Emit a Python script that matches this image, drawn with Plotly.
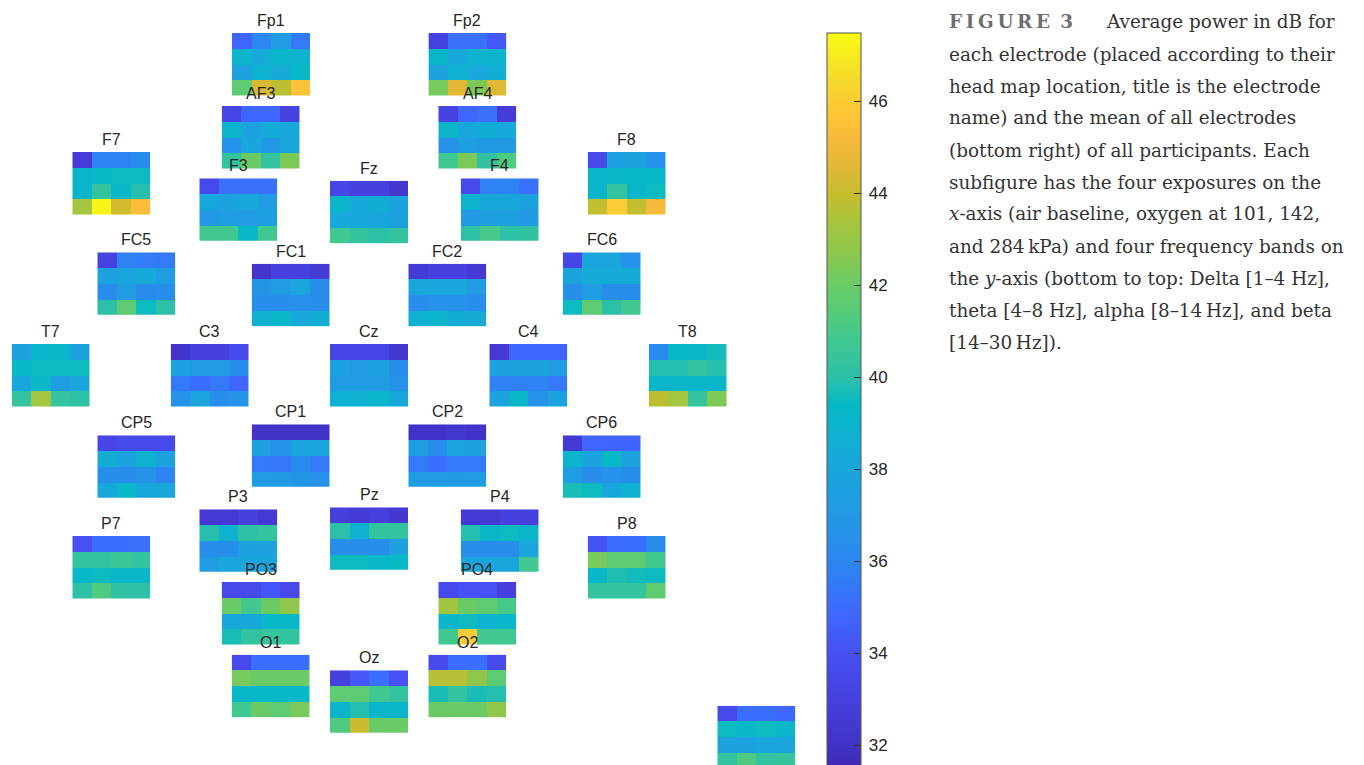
import plotly.graph_objects as go

# ---------------- data ----------------
EXPOSURES = ["Air baseline", "O2 101 kPa", "O2 142 kPa", "O2 284 kPa"]
BANDS_TOP_TO_BOTTOM = ["Beta", "Alpha", "Theta", "Delta"]

# rows listed top to bottom (Beta, Alpha, Theta, Delta), columns = exposures
FP1 = [[34.8, 36.0, 37.3, 35.5], [39.0, 38.3, 39.1, 38.9], [37.6, 38.9, 38.3, 39.4], [41.6, 44.4, 43.8, 45.6]]
FP2 = [[33.1, 35.2, 35.2, 34.3], [39.1, 38.1, 38.9, 39.0], [37.8, 38.8, 38.2, 38.5], [42.3, 44.6, 42.4, 44.5]]
AF3 = [[33.4, 34.8, 34.8, 33.1], [39.0, 37.8, 38.4, 38.1], [36.6, 38.0, 37.0, 37.9], [40.3, 42.0, 40.3, 42.4]]
AF4 = [[33.1, 34.8, 35.2, 32.7], [39.1, 38.1, 38.5, 38.2], [36.6, 37.5, 37.1, 37.1], [40.8, 42.4, 40.2, 41.2]]
F7 = [[32.7, 35.8, 35.8, 36.3], [39.1, 39.3, 39.5, 39.5], [39.1, 40.3, 39.2, 39.9], [43.3, 47.3, 44.2, 45.3]]
F8 = [[33.6, 37.7, 37.7, 36.6], [39.1, 39.2, 39.2, 39.2], [39.1, 40.3, 39.1, 39.5], [43.9, 45.9, 43.9, 45.1]]
F3 = [[33.5, 35.2, 35.2, 35.2], [38.1, 37.7, 38.1, 37.3], [37.0, 37.4, 37.2, 37.5], [40.8, 40.8, 39.2, 40.8]]
FZ = [[33.3, 33.0, 33.0, 32.4], [39.1, 38.2, 38.5, 37.8], [38.2, 38.2, 37.9, 37.8], [40.8, 40.3, 40.1, 40.3]]
F4 = [[33.6, 35.8, 35.8, 35.2], [39.0, 38.1, 38.1, 37.8], [37.0, 37.5, 37.5, 37.1], [40.1, 41.0, 40.1, 40.2]]
FC5 = [[33.1, 35.8, 35.6, 35.5], [37.7, 37.9, 38.2, 37.2], [36.3, 37.2, 36.3, 36.4], [40.0, 41.6, 39.5, 40.0]]
FC1 = [[32.2, 33.0, 33.0, 32.6], [36.8, 37.2, 37.9, 36.4], [36.4, 36.4, 36.5, 36.4], [38.8, 39.2, 38.2, 38.5]]
FC2 = [[32.6, 33.0, 33.0, 32.5], [37.9, 37.9, 37.9, 37.3], [36.4, 36.6, 36.6, 36.4], [38.8, 39.1, 38.5, 38.3]]
FC6 = [[33.3, 38.0, 38.0, 36.6], [37.8, 38.4, 38.4, 38.4], [36.4, 37.2, 36.4, 36.4], [39.5, 41.6, 40.0, 40.8]]
T7 = [[37.7, 39.1, 39.1, 37.7], [39.2, 39.5, 39.5, 39.5], [38.1, 39.2, 37.2, 38.0], [40.3, 43.3, 40.3, 40.1]]
C3 = [[32.2, 33.0, 33.0, 33.6], [37.7, 37.2, 37.2, 36.4], [35.5, 35.1, 35.5, 34.8], [36.6, 38.0, 36.4, 36.6]]
CZ = [[33.3, 33.3, 33.3, 32.4], [37.7, 37.3, 37.6, 36.4], [37.3, 37.2, 37.2, 36.7], [38.7, 38.8, 39.1, 38.1]]
C4 = [[32.5, 34.8, 34.8, 34.8], [37.7, 37.7, 37.7, 37.2], [35.8, 35.8, 35.8, 35.5], [37.7, 39.1, 36.6, 37.7]]
T8 = [[36.3, 39.2, 39.1, 39.6], [39.9, 39.9, 40.3, 39.9], [39.1, 39.1, 39.1, 39.1], [43.8, 43.3, 40.3, 42.4]]
CP5 = [[33.3, 33.6, 33.6, 33.6], [38.5, 37.7, 38.8, 37.7], [36.4, 36.4, 36.6, 35.9], [38.1, 39.2, 38.1, 38.1]]
CP1 = [[32.0, 32.0, 32.0, 32.0], [37.6, 36.6, 38.0, 38.0], [35.5, 35.4, 36.2, 35.5], [37.2, 37.1, 36.8, 36.6]]
CP2 = [[32.1, 32.1, 32.3, 32.1], [37.2, 36.4, 38.0, 37.6], [35.5, 35.1, 35.5, 35.5], [37.2, 37.3, 37.1, 37.2]]
CP6 = [[32.5, 34.8, 34.7, 34.7], [39.0, 37.7, 39.2, 37.7], [37.2, 36.4, 36.6, 36.4], [39.7, 39.5, 38.1, 38.8]]
P7 = [[34.0, 35.1, 35.1, 35.2], [40.3, 40.3, 40.6, 40.3], [39.2, 39.5, 39.2, 39.1], [40.1, 41.2, 40.1, 40.1]]
P3 = [[32.5, 32.5, 33.0, 32.5], [39.9, 38.8, 40.1, 40.3], [36.4, 36.4, 37.7, 37.7], [37.3, 37.9, 37.9, 37.9]]
PZ = [[32.9, 32.6, 32.9, 32.4], [40.0, 38.8, 40.3, 40.3], [36.4, 36.4, 36.4, 37.6], [39.5, 39.5, 39.2, 39.4]]
P4 = [[32.5, 32.5, 33.0, 33.0], [39.9, 39.1, 39.5, 39.1], [36.4, 36.4, 36.4, 38.0], [38.0, 38.0, 38.0, 40.8]]
P8 = [[34.1, 35.1, 35.1, 36.3], [42.3, 41.6, 41.6, 40.8], [39.2, 39.8, 39.6, 39.5], [40.3, 40.3, 40.3, 41.7]]
PO3 = [[33.5, 33.5, 34.2, 33.5], [42.0, 40.8, 42.0, 42.8], [38.1, 38.1, 39.2, 39.2], [39.7, 40.3, 40.4, 40.3]]
PO4 = [[33.6, 34.0, 34.0, 33.0], [43.2, 42.0, 41.6, 41.0], [39.1, 39.5, 38.9, 39.2], [40.8, 46.0, 40.8, 40.8]]
O1 = [[33.6, 35.1, 35.1, 35.1], [42.3, 42.0, 42.0, 42.0], [39.2, 39.2, 39.2, 39.2], [40.8, 42.0, 41.6, 42.3]]
OZ = [[33.0, 34.3, 35.1, 34.0], [41.6, 41.6, 40.8, 40.3], [39.1, 39.9, 39.1, 39.1], [41.2, 44.0, 42.0, 42.0]]
O2 = [[33.6, 35.1, 35.1, 33.6], [43.7, 43.7, 42.8, 41.6], [39.7, 40.3, 39.7, 39.9], [42.0, 42.0, 42.0, 42.8]]
MEAN = [[33.5, 35.1, 35.1, 34.8], [39.5, 39.2, 39.5, 39.1], [37.7, 37.7, 38.0, 38.0], [40.3, 41.2, 40.3, 40.4]]

ELECTRODES = ["Fp1", "Fp2", "AF3", "AF4", "F7", "F8", "F3", "Fz", "F4", "FC5", "FC1", "FC2", "FC6",
              "T7", "C3", "Cz", "C4", "T8", "CP5", "CP1", "CP2", "CP6", "P7", "P3", "Pz", "P4", "P8",
              "PO3", "PO4", "O1", "Oz", "O2", ""]
VALUES = [FP1, FP2, AF3, AF4, F7, F8, F3, FZ, F4, FC5, FC1, FC2, FC6,
          T7, C3, CZ, C4, T8, CP5, CP1, CP2, CP6, P7, P3, PZ, P4, P8,
          PO3, PO4, O1, OZ, O2, MEAN]

COLOR_MIN, COLOR_MAX = 31.2, 47.48
COLORBAR_TICKS = [32, 34, 36, 38, 40, 42, 44, 46]

# ---------------- layout (pixel placement on the page) ----------------
PAGE_W, PAGE_H = 1364, 765
OFF = 8  # default body margin of the html page
W, H = PAGE_W - OFF, PAGE_H - OFF
TILE_W, TILE_H = 78.0, 62.5
TILE_POS = [(232, 33), (428.4, 33), (221.7, 106), (438.3, 106), (72.3, 152), (587.7, 152),
            (199.3, 178.3), (330, 180.7), (460.7, 178.3), (97.3, 252.3), (251.7, 263.7),
            (408.3, 263.7), (562.7, 252.3), (11.7, 344), (170.7, 344), (330, 344), (489.3, 344),
            (648.7, 344), (97.3, 435.3), (251.7, 424.3), (408.3, 424.3), (562.7, 435.3),
            (72.3, 536), (199.3, 509.3), (330, 507.3), (460.7, 509.3), (587.7, 536),
            (221.7, 582), (438.3, 582), (231.7, 654.7), (330, 670.3), (428.3, 654.7), (717.3, 705.7)]


def fx(px):
    return (px - OFF) / W


def fy(py):
    return 1 - (py - OFF) / H


# parula-like colour anchors (value, colour)
PARULA = [(31.2, "#3e26a8"), (32.0, "#4232c6"), (33.0, "#4640de"), (34.0, "#4650f4"),
          (35.0, "#3c6cff"), (36.0, "#2c87f0"), (37.0, "#2299e4"), (38.0, "#1aa6dc"),
          (39.0, "#0bb4cc"), (39.4, "#06b9c4"), (40.0, "#2cc0a8"), (40.8, "#40c890"),
          (41.5, "#58cb76"), (42.0, "#6acb66"), (42.7, "#8cc84e"), (43.4, "#a8c43c"),
          (44.0, "#c8bc2e"), (44.6, "#e2b834"), (45.2, "#f9ba3c"), (45.8, "#fcc835"),
          (46.5, "#f4da2a"), (47.48, "#f9fb14")]
colorscale = [[(v - COLOR_MIN) / (COLOR_MAX - COLOR_MIN), c] for v, c in PARULA]

fig = go.Figure()
annotations = []
layout_axes = {}
bands_bottom_to_top = BANDS_TOP_TO_BOTTOM[::-1]

for i, (name, vals, (px, py)) in enumerate(zip(ELECTRODES, VALUES, TILE_POS), start=1):
    z = vals[::-1]  # bottom row = Delta
    fig.add_trace(go.Heatmap(
        z=z, x=EXPOSURES, y=bands_bottom_to_top, coloraxis="coloraxis",
        xaxis=f"x{i}", yaxis=f"y{i}", name=name or "Mean",
        hovertemplate="%{y} / %{x}: %{z:.1f} dB<extra>" + (name or "Mean") + "</extra>"))
    ytop = fy(py)
    ybot = fy(py + TILE_H)
    yrange = [-0.5, 3.5]
    if ybot < 0:
        visible_px = PAGE_H - py
        cells = visible_px / (TILE_H / 4)
        yrange = [3.5 - cells, 3.5]
        ybot = 0
    layout_axes[f"xaxis{i}"] = dict(domain=[fx(px), fx(px + TILE_W)], anchor=f"y{i}", visible=False,
                                    showgrid=False, zeroline=False, fixedrange=True)
    layout_axes[f"yaxis{i}"] = dict(domain=[ybot, ytop], anchor=f"x{i}", visible=False,
                                    showgrid=False, zeroline=False, range=yrange, fixedrange=True)
    if name:
        annotations.append(dict(
            text=name, x=fx(px + TILE_W / 2), y=fy(py - 12.5),
            xref="paper", yref="paper", xanchor="center", yanchor="middle", showarrow=False,
            font=dict(family="Liberation Sans, Arial, sans-serif", size=16, color="#262626")))

# caption text
CAPTION_LINES = [
    "each electrode (placed according to their",
    "head map location, title is the electrode",
    "name) and the mean of all electrodes",
    "(bottom right) of all participants. Each",
    "subfigure has the four exposures on the",
    "<i>x</i>-axis (air baseline, oxygen at 101, 142,",
    "and 284\u2009kPa) and four frequency bands on",
    "the <i>y</i>-axis (bottom to top: Delta [1\u20134 Hz],",
    "theta [4\u20138 Hz], alpha [8\u201314\u2009Hz], and beta",
    "[14\u201330\u2009Hz]).",
]
serif = "DejaVu Serif, serif"
line_h = 32.0
first_y = 22.0
annotations.append(dict(
    text="<b>F\u2009I\u2009G\u2009U\u2009R\u2009E\u2009 3</b>", x=fx(947), y=fy(first_y),
    xref="paper", yref="paper", xanchor="left", yanchor="middle", showarrow=False,
    font=dict(family=serif, size=18.4, color="#6e6e6e")))
annotations.append(dict(
    text="Average power in dB for", x=fx(1104), y=fy(first_y),
    xref="paper", yref="paper", xanchor="left", yanchor="middle", showarrow=False,
    font=dict(family=serif, size=18.4, color="#333333")))
for k, line in enumerate(CAPTION_LINES, start=1):
    annotations.append(dict(
        text=line, x=fx(947), y=fy(first_y + k * line_h),
        xref="paper", yref="paper", xanchor="left", yanchor="middle", showarrow=False,
        font=dict(family=serif, size=18.4, color="#333333")))

cb_len_px = (COLOR_MAX - COLOR_MIN) * 46.0

fig.update_layout(
    width=W, height=H,
    margin=dict(l=0, r=0, t=0, b=0, pad=0, autoexpand=False),
    paper_bgcolor="white", plot_bgcolor="white",
    showlegend=False,
    annotations=annotations,
    coloraxis=dict(
        cmin=COLOR_MIN, cmax=COLOR_MAX, colorscale=colorscale,
        colorbar=dict(
            x=fx(826.7), xanchor="left", xref="paper",
            y=fy(33), yanchor="top", yref="paper",
            lenmode="pixels", len=cb_len_px, thicknessmode="pixels", thickness=34,
            xpad=0, ypad=0, outlinewidth=1, outlinecolor="#555555",
            tickmode="array", tickvals=COLORBAR_TICKS,
            ticktext=["\u2009" + str(t) for t in COLORBAR_TICKS],
            ticks="inside", ticklen=7, tickwidth=1, tickcolor="#333333",
            tickfont=dict(family="Liberation Sans, Arial, sans-serif", size=17, color="#262626"),
        ),
    ),
    **layout_axes,
)

fig.write_html("out.html")
